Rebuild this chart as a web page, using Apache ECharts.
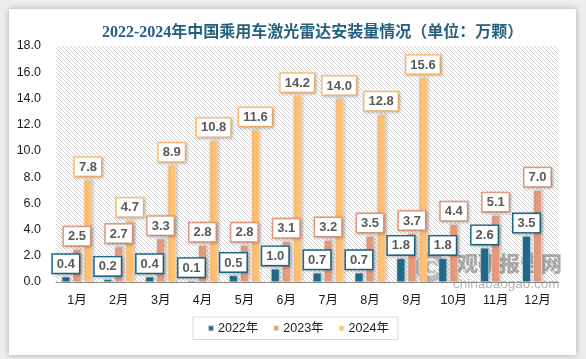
<!DOCTYPE html>
<html>
<head>
<meta charset="utf-8">
<script src="https://cdn.jsdelivr.net/npm/echarts@6/dist/echarts.min.js"></script>
<style>
  html, body { margin: 0; padding: 0; width: 586px; height: 359px; background: #ededed; overflow: hidden; }
  #card { position: absolute; left: 9px; top: 9px; width: 567px; height: 346px; background: #fff; box-shadow: 0 0 6px rgba(0,0,0,0.28); }
  #chart { position: absolute; left: 0; top: 0; width: 586px; height: 359px; }
</style>
</head>
<body>
<div id="card"></div>
<div id="chart"></div>
<script>
const titleText = '2022-2024年中国乘用车激光雷达安装量情况（单位：万颗）';
const categories = ['1月','2月','3月','4月','5月','6月','7月','8月','9月','10月','11月','12月'];
const seriesNames = ['2022年','2023年','2024年'];
const s2022 = [0.4, 0.2, 0.4, 0.1, 0.5, 1.0, 0.7, 0.7, 1.8, 1.8, 2.6, 3.5];
const s2023 = [2.5, 2.7, 3.3, 2.8, 2.8, 3.1, 3.2, 3.5, 3.7, 4.4, 5.1, 7.0];
const s2024 = [7.8, 4.7, 8.9, 10.8, 11.6, 14.2, 14.0, 12.8, 15.6, null, null, null];
const yMin = 0, yMax = 18, yInterval = 2;

const colors = ['#1f6b8c', '#e59b7c', '#ffc174'];

// hatch pattern for plot background
const pc = document.createElement('canvas');
pc.width = 4; pc.height = 4;
const pctx = pc.getContext('2d');
pctx.fillStyle = '#ffffff';
pctx.fillRect(0, 0, 4, 4);
pctx.strokeStyle = '#d2d2d2';
pctx.lineWidth = 1;
pctx.beginPath();
pctx.moveTo(-1, -1); pctx.lineTo(5, 5);
pctx.moveTo(-1, 3); pctx.lineTo(1, 5);
pctx.moveTo(3, -1); pctx.lineTo(5, 1);
pctx.stroke();

const chart = echarts.init(document.getElementById('chart'), null, { renderer: 'canvas' });

function mkSeries(name, data, color) {
  return {
    name: name,
    type: 'bar',
    data: data,
    barWidth: 8.5,
    barGap: '30%',
    itemStyle: {
      color: color,
      borderColor: 'rgba(255,255,255,0.7)',
      borderWidth: 0.6,
      shadowBlur: 3,
      shadowColor: 'rgba(0,0,0,0.25)',
      shadowOffsetX: 1,
      shadowOffsetY: 0
    },
    label: {
      show: true,
      position: 'top',
      distance: 4,
      formatter: p => (p.value == null ? '' : Number(p.value).toFixed(1)),
      color: '#595959',
      fontWeight: 'bold',
      fontSize: 13,
      fontFamily: 'Liberation Sans, Arial, sans-serif',
      backgroundColor: '#ffffff',
      borderColor: color,
      borderWidth: 1.5,
      padding: [3, 4, 2, 4],
      shadowBlur: 3,
      shadowColor: 'rgba(0,0,0,0.22)',
      shadowOffsetX: 1,
      shadowOffsetY: 1
    }
  };
}

chart.setOption({
  animation: false,
  color: colors,
  title: {
    text: titleText,
    left: 97,
    top: 20,
    textStyle: {
      fontSize: 16,
      fontWeight: 'bold',
      color: '#22607f',
      fontFamily: 'Liberation Serif, "Noto Sans CJK SC", serif'
    }
  },
  legend: {
    data: seriesNames,
    left: 193,
    top: 317,
    icon: 'rect',
    itemWidth: 6,
    itemHeight: 6,
    itemGap: 14,
    padding: [5, 9, 5, 14],
    borderColor: '#d9d9d9',
    borderWidth: 1,
    textStyle: { fontSize: 12.5, color: '#1a1a1a', fontFamily: 'Liberation Sans, "Noto Sans CJK SC", sans-serif', padding: [0, 0, 0, -1] }
  },
  grid: {
    left: 56,
    right: 27.5,
    top: 46,
    bottom: 77,
    show: true,
    borderWidth: 0,
    backgroundColor: { image: pc, repeat: 'repeat' }
  },
  xAxis: {
    type: 'category',
    data: categories,
    axisLine: { show: true, lineStyle: { color: '#8c8c8c', width: 1 } },
    axisTick: { show: false },
    axisLabel: { margin: 12, fontSize: 12.5, color: '#1a1a1a', fontFamily: 'Liberation Sans, "Noto Sans CJK SC", sans-serif' }
  },
  yAxis: {
    type: 'value',
    min: yMin,
    max: yMax,
    interval: yInterval,
    axisLine: { show: false },
    axisTick: { show: false },
    splitLine: { show: false },
    axisLabel: {
      margin: 15,
      fontSize: 12.5,
      color: '#1a1a1a',
      fontFamily: 'Liberation Sans, sans-serif',
      formatter: v => v.toFixed(1)
    }
  },
  series: [
    mkSeries(seriesNames[0], s2022, colors[0]),
    mkSeries(seriesNames[1], s2023, colors[1]),
    mkSeries(seriesNames[2], s2024, colors[2])
  ],
  graphic: [
    {
      type: 'group',
      z: 100,
      silent: true,
      children: [
        { type: 'arc', shape: { cx: 430, cy: 267, r: 12, startAngle: 0.6, endAngle: Math.PI * 2 - 0.3 }, style: { stroke: 'rgba(120,120,120,0.45)', lineWidth: 6, fill: null } },
        { type: 'arc', shape: { cx: 432, cy: 267, r: 5, startAngle: 0.8, endAngle: Math.PI * 2 - 0.2 }, style: { stroke: 'rgba(120,120,120,0.4)', lineWidth: 3, fill: null } },
        { type: 'text', left: 457, top: 253, style: { text: '观研报告网', fontSize: 21, fontWeight: 900, fill: 'rgba(105,105,105,0.55)', fontFamily: '"Noto Sans CJK SC", sans-serif' } },
        { type: 'text', left: 453, top: 277, style: { text: 'chinabaogao.com', fontSize: 13.5, fill: 'rgba(110,110,110,0.5)', fontFamily: 'Liberation Sans, sans-serif' } }
      ]
    }
  ]
});
</script>
</body>
</html>
